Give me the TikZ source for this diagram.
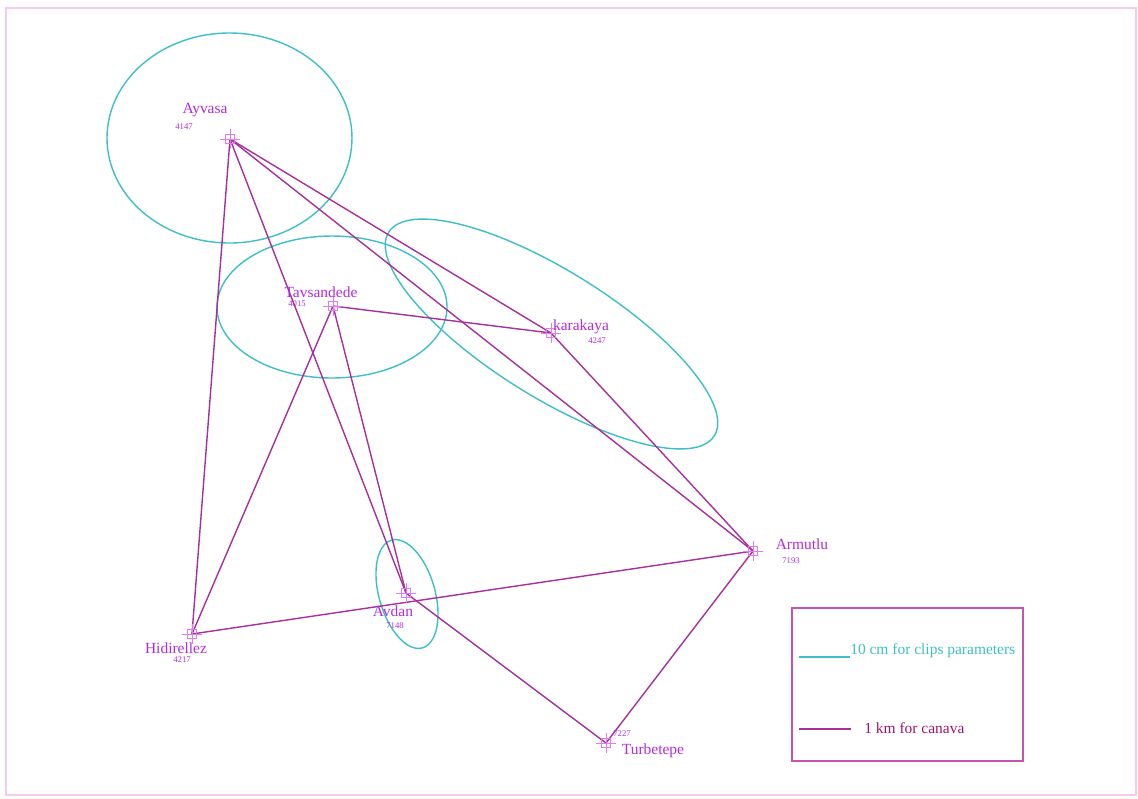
\documentclass[tikz,border=0pt]{standalone}
\usepackage{fontspec}
\setmainfont{Liberation Serif}
\definecolor{linkcol}{HTML}{A8309C}
\definecolor{namecol}{HTML}{B02CE0}
\definecolor{markcol}{HTML}{E07CF0}
\definecolor{ringcol}{HTML}{3EBFC8}
\definecolor{framecol}{HTML}{C454AC}
\definecolor{pagecol}{HTML}{F2CCEA}
\definecolor{kmcol}{HTML}{A0146E}
\tikzset{
  link/.style={draw=linkcol, line width=1pt},
  ring/.style={draw=ringcol, line width=1pt},
  sitename/.style={text=namecol, font=\fontsize{11}{13}\selectfont, inner sep=0pt},
  sitecode/.style={text=namecol, font=\fontsize{6.2}{7}\selectfont, inner sep=0pt},
  legendtext/.style={font=\fontsize{11}{13}\selectfont, inner sep=0pt, anchor=west},
  sitemark/.pic={
    \draw[markcol, line width=0.6pt] (-4.5,-4.5) rectangle (4.5,4.5);
    \draw[markcol, line width=0.6pt] (-10,0) -- (10,0) (0,-10) -- (0,10);
  }
}
\begin{document}
\begin{tikzpicture}[x=0.025cm, y=-0.025cm]
  % page frame
  \useasboundingbox (0,0) rectangle (1138,798);
  \draw[pagecol, line width=0.8pt] (6,8) rectangle (1136,795);

  % survey stations
  \coordinate (ayv) at (230,139);
  \coordinate (tav) at (333,306);
  \coordinate (kar) at (551,333);
  \coordinate (arm) at (753,551);
  \coordinate (avd) at (406,593);
  \coordinate (hid) at (192,634);
  \coordinate (tur) at (606,743);

  % error ellipses
  \draw[ring] (229.5,138) ellipse [x radius=122.5, y radius=105];
  \draw[ring] (332,307) ellipse [x radius=115, y radius=71];
  \draw[ring, rotate around={-32:(551.5,334)}] (551.5,334) ellipse [x radius=192, y radius=63];
  \draw[ring, rotate around={16:(407,594)}] (407,594) ellipse [x radius=28, y radius=56];

  % observation network
  \draw[link] (ayv) -- (hid);
  \draw[link] (ayv) -- (avd);
  \draw[link] (ayv) -- (arm);
  \draw[link] (ayv) -- (kar);
  \draw[link] (tav) -- (kar);
  \draw[link] (tav) -- (avd);
  \draw[link] (tav) -- (hid);
  \draw[link] (kar) -- (arm);
  \draw[link] (hid) -- (arm);
  \draw[link] (avd) -- (tur);
  \draw[link] (tur) -- (arm);

  % station markers
  \foreach \p in {ayv,tav,kar,arm,avd,hid,tur} { \pic at (\p) {sitemark}; }

  % station names and numbers
  \node[sitename] (ayvname) at (205,110) {Ayvasa};
  \node[sitecode] (ayvcode) at (184,127) {4147};
  \node[sitename] (tavname) at (321,292) {Tavsandede};
  \node[sitecode] (tavcode) at (297,304) {4015};
  \node[sitename] (karname) at (581,327) {karakaya};
  \node[sitecode] (karcode) at (597,341) {4247};
  \node[sitename] (armname) at (802,544) {Armutlu};
  \node[sitecode] (armcode) at (791,561) {7193};
  \node[sitename] (avdname) at (393,611) {Avdan};
  \node[sitecode] (avdcode) at (395,626) {7148};
  \node[sitename] (hidname) at (176,648) {Hidirellez};
  \node[sitecode] (hidcode) at (182,660) {4217};
  \node[sitename] (turname) at (653,751) {Turbetepe};
  \node[sitecode] (turcode) at (622,734) {7227};

  % legend
  \draw[framecol, line width=1pt] (792,608) rectangle (1023,761);
  \coordinate (cyanA) at (799,657);
  \coordinate (cyanB) at (850,657);
  \draw[ring] (cyanA) -- (cyanB);
  \node[legendtext, text=ringcol] (cyantext) at (850,651) {10 cm for clips parameters};
  \coordinate (magA) at (799,729);
  \coordinate (magB) at (851,729);
  \draw[link] (magA) -- (magB);
  \node[legendtext, text=kmcol] (magtext) at (864,728) {1 km for canava};
\end{tikzpicture}
\end{document}
